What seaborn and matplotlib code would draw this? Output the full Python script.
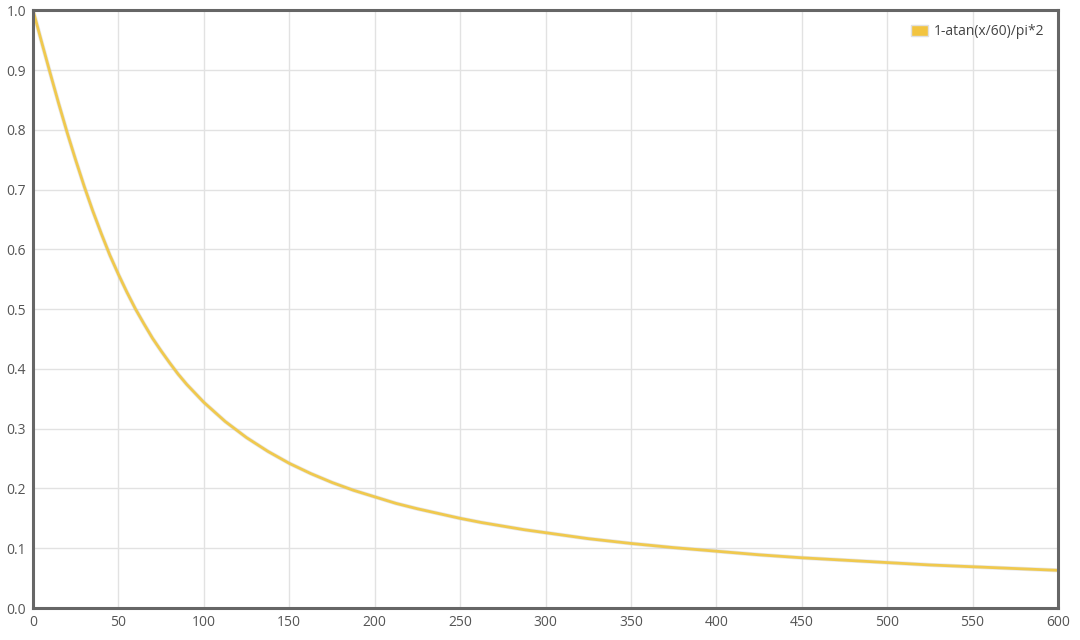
import matplotlib
matplotlib.use("Agg")
import matplotlib.pyplot as plt
import matplotlib.patches as mpatches
import seaborn as sns
import pandas as pd

# values
x_vals = [0, 5, 10, 15, 20, 25, 30, 35, 40, 45, 50, 55, 60, 65, 70, 75, 80,
          85, 90, 95, 100, 112.5, 125, 137.5, 150, 162.5, 175, 187.5, 200,
          212.5, 225, 237.5, 250, 262.5, 275, 287.5, 300, 325, 350, 375,
          400, 425, 450, 475, 500, 525, 550, 575, 600]
y_vals = [1.0, 0.947, 0.895, 0.844, 0.795, 0.749, 0.705, 0.664, 0.626, 0.590,
          0.558, 0.528, 0.500, 0.475, 0.451, 0.430, 0.410, 0.391, 0.374,
          0.359, 0.344, 0.312, 0.285, 0.262, 0.242, 0.225, 0.210, 0.197,
          0.186, 0.175, 0.166, 0.158, 0.150, 0.143, 0.137, 0.131, 0.126,
          0.116, 0.108, 0.101, 0.095, 0.089, 0.084, 0.080, 0.076, 0.072,
          0.069, 0.066, 0.063]
series_name = "1-atan(x/60)/pi*2"
x_ticks = list(range(0, 601, 50))
y_ticks = [i / 10 for i in range(0, 11)]

df = pd.DataFrame({"x": x_vals, "y": y_vals})

sns.set_style("white")
plt.rcParams["font.family"] = ["Open Sans", "DejaVu Sans"]

fig = plt.figure(figsize=(10.8, 6.4), dpi=100)
ax = fig.add_axes([0.0306, 0.05, 0.949, 0.934])

line_color = "#f0c94e"
# soft shadow under the line
sns.lineplot(data=df, x="x", y="y", ax=ax, color="#bbbbbb", linewidth=3,
             alpha=0.35, legend=False, solid_joinstyle="round")
sns.lineplot(data=df, x="x", y="y", ax=ax, color=line_color, linewidth=2,
             legend=False, solid_joinstyle="round")

ax.set_xlim(0, 600)
ax.set_ylim(0, 1.0)
ax.set_xticks(x_ticks)
ax.set_yticks(y_ticks)
ax.set_xticklabels([str(t) for t in x_ticks])
ax.set_yticklabels([f"{t:.1f}" for t in y_ticks])
ax.set_xlabel("")
ax.set_ylabel("")
ax.grid(True, color="#e2e2e2", linewidth=1)
ax.set_axisbelow(True)
ax.tick_params(axis="both", length=0, labelsize=10, colors="#555555", pad=5)
for s in ax.spines.values():
    s.set_color("#666666")
    s.set_linewidth(2.2)

handle = mpatches.Patch(facecolor="#f2c440", edgecolor="#e0e0e0", label=series_name)
leg = ax.legend(handles=[handle], loc="upper right", frameon=False,
                fontsize=10, handlelength=1.2, handleheight=0.9,
                handletextpad=0.4, borderaxespad=0.6)
for t in leg.get_texts():
    t.set_color("#444444")

fig.savefig("out.png", dpi=100)
